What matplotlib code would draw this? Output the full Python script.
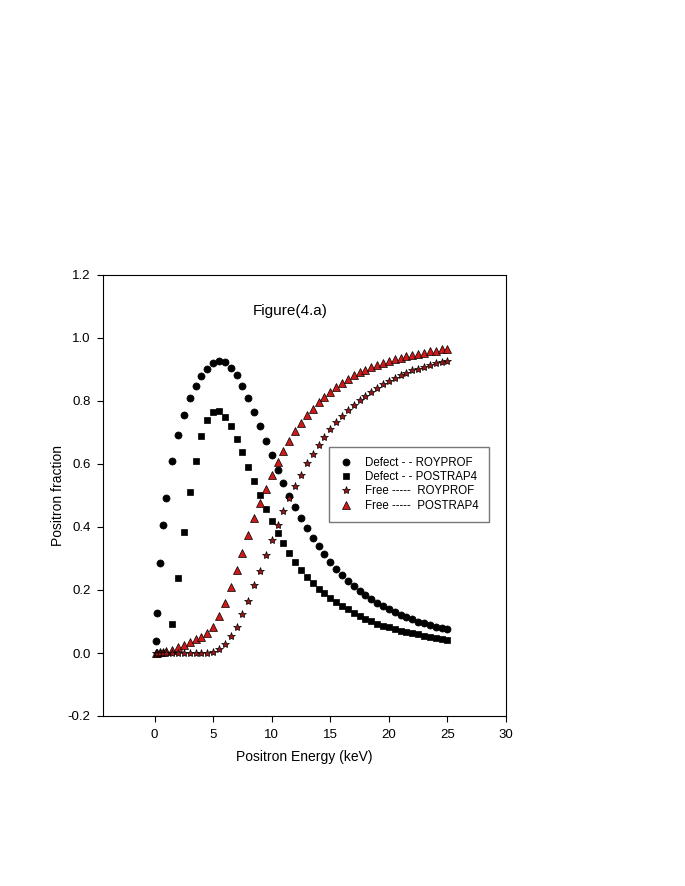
import numpy as np
import matplotlib
matplotlib.use("Agg")
import matplotlib.pyplot as plt

plt.rcParams['font.family'] = ['Liberation Sans', 'DejaVu Sans']

# positron energy (keV)
energy = [0.1, 0.25, 0.5, 0.75, 1.0, 1.5, 2.0, 2.5, 3.0, 3.5, 4.0, 4.5, 5.0,
          5.5, 6.0, 6.5, 7.0, 7.5, 8.0, 8.5, 9.0, 9.5, 10.0, 10.5, 11.0, 11.5,
          12.0, 12.5, 13.0, 13.5, 14.0, 14.5, 15.0, 15.5, 16.0, 16.5, 17.0,
          17.5, 18.0, 18.5, 19.0, 19.5, 20.0, 20.5, 21.0, 21.5, 22.0, 22.5,
          23.0, 23.5, 24.0, 24.5, 25.0]

defect_royprof = [0.038, 0.127, 0.285, 0.406, 0.493, 0.610, 0.691, 0.757,
                  0.809, 0.849, 0.880, 0.903, 0.920, 0.927, 0.923, 0.906,
                  0.883, 0.849, 0.810, 0.765, 0.721, 0.674, 0.628, 0.582,
                  0.541, 0.500, 0.463, 0.429, 0.396, 0.366, 0.339, 0.313,
                  0.289, 0.267, 0.248, 0.230, 0.213, 0.197, 0.184, 0.171,
                  0.160, 0.149, 0.139, 0.130, 0.122, 0.114, 0.107, 0.100,
                  0.094, 0.089, 0.084, 0.079, 0.075]

defect_postrap4 = [np.nan, np.nan, np.nan, np.nan, np.nan, 0.092, 0.237,
                   0.383, 0.510, 0.611, 0.689, 0.740, 0.766, 0.768, 0.750,
                   0.720, 0.680, 0.637, 0.590, 0.547, 0.501, 0.458, 0.418,
                   0.380, 0.348, 0.317, 0.289, 0.264, 0.241, 0.221, 0.204,
                   0.190, 0.175, 0.162, 0.149, 0.139, 0.128, 0.118, 0.109,
                   0.101, 0.093, 0.087, 0.081, 0.076, 0.071, 0.067, 0.063,
                   0.059, 0.055, 0.051, 0.047, 0.044, 0.041]

free_royprof = [0.0, 0.0, 0.0, 0.0, 0.0, 0.0, 0.0, 0.0, 0.0, 0.0, 0.0, 0.0,
                0.003, 0.014, 0.030, 0.053, 0.083, 0.124, 0.166, 0.215,
                0.261, 0.312, 0.359, 0.407, 0.452, 0.492, 0.530, 0.566,
                0.602, 0.632, 0.661, 0.687, 0.711, 0.732, 0.752, 0.771,
                0.787, 0.803, 0.816, 0.830, 0.842, 0.854, 0.864, 0.873,
                0.882, 0.890, 0.897, 0.903, 0.909, 0.915, 0.920, 0.924,
                0.928]

free_postrap4 = [0.0, 0.001, 0.002, 0.004, 0.006, 0.011, 0.019, 0.026,
                 0.034, 0.043, 0.050, 0.062, 0.083, 0.117, 0.160, 0.209,
                 0.262, 0.318, 0.374, 0.429, 0.475, 0.522, 0.566, 0.606,
                 0.642, 0.674, 0.706, 0.730, 0.754, 0.775, 0.796, 0.814,
                 0.830, 0.843, 0.857, 0.871, 0.882, 0.892, 0.899, 0.907,
                 0.913, 0.922, 0.926, 0.932, 0.937, 0.943, 0.947, 0.950,
                 0.953, 0.958, 0.960, 0.964, 0.966]

labels = ['Defect - - ROYPROF', 'Defect - - POSTRAP4',
          'Free -----  ROYPROF', 'Free -----  POSTRAP4']

fig = plt.figure(figsize=(6.85, 8.86), dpi=100)
ax = fig.add_axes([103 / 685, 1 - 716 / 886, 403 / 685, 441 / 886])

h1, = ax.plot(energy, defect_royprof, 'o', ms=5.1, color='black', mec='black',
              mew=0.5, zorder=3)
h2, = ax.plot(energy, defect_postrap4, 's', ms=4.9, color='black', mec='black',
              mew=0.5, zorder=3)
h4, = ax.plot(energy, free_postrap4, '^', ms=5.2, color='#cc1a1a', mec='black',
              mew=0.5, zorder=4)
h3, = ax.plot(energy, free_royprof, '*', ms=6, color='#9a1515', mec='black',
              mew=0.5, zorder=5)

ax.set_xlim(-4.4, 30)
ax.set_ylim(-0.2, 1.2)
ax.set_xticks([0, 5, 10, 15, 20, 25, 30])
ax.set_yticks(np.arange(-0.2, 1.21, 0.2))
ax.set_yticklabels(['%.1f' % v for v in np.arange(-0.2, 1.21, 0.2)])
ax.tick_params(direction='out', length=4, width=0.8, labelsize=9.5,
               top=False, right=False, pad=5)
for s in ax.spines.values():
    s.set_linewidth(0.8)

ax.set_xlabel('Positron Energy (keV)', fontsize=10, labelpad=7)
ax.set_ylabel('Positron fraction', fontsize=10, labelpad=2)
ax.text(0.464, 0.918, 'Figure(4.a)', transform=ax.transAxes, fontsize=11,
        ha='center', va='center')

leg = ax.legend([h1, h2, h3, h4], labels, loc='upper left',
                bbox_to_anchor=(329 / 685, 1 - 447 / 886),
                bbox_transform=fig.transFigure, borderaxespad=0,
                fontsize=8.3, frameon=True, fancybox=False, handlelength=1.2,
                handletextpad=1.1, labelspacing=0.2, borderpad=0.85,
                markerscale=1.0)
leg.get_frame().set_edgecolor('#555555')
leg.get_frame().set_linewidth(1.0)

fig.savefig('out.png', dpi=100)
